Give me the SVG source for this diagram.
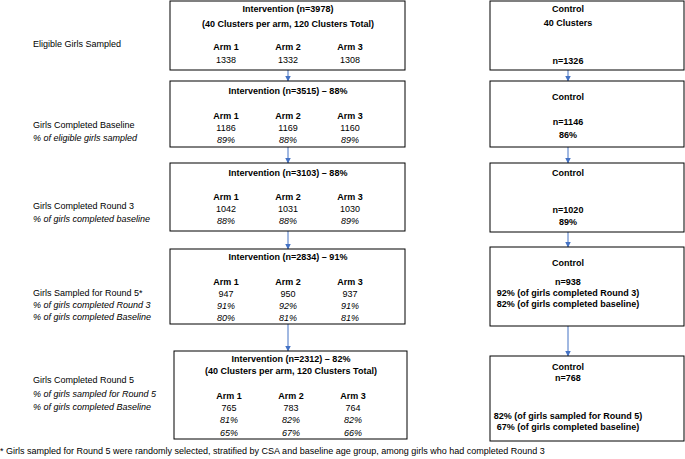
<svg xmlns="http://www.w3.org/2000/svg" width="685" height="459" viewBox="0 0 685 459">
<defs>
<marker id="ah" viewBox="0 0 6 6" refX="5.5" refY="3" markerWidth="6" markerHeight="6" markerUnits="userSpaceOnUse" orient="auto">
<path d="M0,0 L6,3 L0,6 z" fill="#4472C4"/>
</marker>
<style>
text{font-family:"Liberation Sans",Arial,sans-serif;font-size:9px;fill:#000}
.b{font-weight:bold}
.i{font-style:italic}
.m{text-anchor:middle}
.box{fill:#fff;stroke:#000;stroke-width:1}
.con{stroke:#4472C4;stroke-width:1;fill:none;marker-end:url(#ah)}
</style>
</defs>
<rect width="685" height="459" fill="#fff"/>

<g id="connectors">
<line class="con" x1="288" y1="70" x2="288" y2="81"/>
<line class="con" x1="568" y1="70" x2="568" y2="81"/>
<line class="con" x1="288" y1="147" x2="288" y2="163"/>
<line class="con" x1="568" y1="147" x2="568" y2="163"/>
<line class="con" x1="288" y1="231" x2="288" y2="249"/>
<line class="con" x1="568" y1="232" x2="568" y2="247"/>
<line class="con" x1="288" y1="324" x2="288" y2="351"/>
<line class="con" x1="568" y1="326" x2="568" y2="356"/>
</g>

<g id="labels">
<text x="33" y="47">Eligible Girls Sampled</text>
<text x="33" y="128">Girls Completed Baseline</text>
<text x="33" y="141" class="i">% of eligible girls sampled</text>
<text x="33" y="209">Girls Completed Round 3</text>
<text x="33" y="222" class="i">% of girls completed baseline</text>
<text x="33" y="296">Girls Sampled for Round 5*</text>
<text x="33" y="308" class="i">% of girls completed Round 3</text>
<text x="33" y="320" class="i">% of girls completed Baseline</text>
<text x="33" y="383">Girls Completed Round 5</text>
<text x="33" y="397" class="i">% of girls sampled for Round 5</text>
<text x="33" y="410" class="i">% of girls completed Baseline</text>
<text x="0" y="454">* Girls sampled for Round 5 were randomly selected, stratified by CSA and baseline age group, among girls who had completed Round 3</text>
</g>

<g id="int1">
<rect class="box" x="170" y="1" width="235" height="69"/>
<text class="b m" x="288" y="12">Intervention (n=3978)</text>
<text class="b m" x="288" y="27">(40 Clusters per arm, 120 Clusters Total)</text>
<text class="b m" x="226" y="50">Arm 1</text>
<text class="b m" x="288" y="50">Arm 2</text>
<text class="b m" x="350" y="50">Arm 3</text>
<text class="m" x="226" y="63">1338</text>
<text class="m" x="288" y="63">1332</text>
<text class="m" x="350" y="63">1308</text>
</g>

<g id="ctl1">
<rect class="box" x="490" y="1" width="194" height="69"/>
<text class="b m" x="568" y="12">Control</text>
<text class="b m" x="568" y="26">40 Clusters</text>
<text class="b m" x="568" y="64">n=1326</text>
</g>

<g id="int2">
<rect class="box" x="170" y="81" width="235" height="66"/>
<text class="b m" x="288" y="94">Intervention (n=3515) – 88%</text>
<text class="b m" x="226" y="119">Arm 1</text>
<text class="b m" x="288" y="119">Arm 2</text>
<text class="b m" x="350" y="119">Arm 3</text>
<text class="m" x="226" y="131">1186</text>
<text class="m" x="288" y="131">1169</text>
<text class="m" x="350" y="131">1160</text>
<text class="m i" x="226" y="143">89%</text>
<text class="m i" x="288" y="143">88%</text>
<text class="m i" x="350" y="143">89%</text>
</g>

<g id="ctl2">
<rect class="box" x="490" y="81" width="194" height="66"/>
<text class="b m" x="568" y="100">Control</text>
<text class="b m" x="568" y="125">n=1146</text>
<text class="b m" x="568" y="138">86%</text>
</g>

<g id="int3">
<rect class="box" x="170" y="163" width="235" height="68"/>
<text class="b m" x="288" y="176">Intervention (n=3103) – 88%</text>
<text class="b m" x="226" y="200">Arm 1</text>
<text class="b m" x="288" y="200">Arm 2</text>
<text class="b m" x="350" y="200">Arm 3</text>
<text class="m" x="226" y="212">1042</text>
<text class="m" x="288" y="212">1031</text>
<text class="m" x="350" y="212">1030</text>
<text class="m i" x="226" y="224">88%</text>
<text class="m i" x="288" y="224">88%</text>
<text class="m i" x="350" y="224">89%</text>
</g>

<g id="ctl3">
<rect class="box" x="490" y="163" width="194" height="69"/>
<text class="b m" x="568" y="176">Control</text>
<text class="b m" x="568" y="213">n=1020</text>
<text class="b m" x="568" y="225">89%</text>
</g>

<g id="int4">
<rect class="box" x="170" y="249" width="235" height="75"/>
<text class="b m" x="288" y="260">Intervention (n=2834) – 91%</text>
<text class="b m" x="226" y="285">Arm 1</text>
<text class="b m" x="288" y="285">Arm 2</text>
<text class="b m" x="350" y="285">Arm 3</text>
<text class="m" x="226" y="297">947</text>
<text class="m" x="288" y="297">950</text>
<text class="m" x="350" y="297">937</text>
<text class="m i" x="226" y="309">91%</text>
<text class="m i" x="288" y="309">92%</text>
<text class="m i" x="350" y="309">91%</text>
<text class="m i" x="226" y="321">80%</text>
<text class="m i" x="288" y="321">81%</text>
<text class="m i" x="350" y="321">81%</text>
</g>

<g id="ctl4">
<rect class="box" x="490" y="247" width="194" height="79"/>
<text class="b m" x="568" y="266">Control</text>
<text class="b m" x="568" y="285">n=938</text>
<text class="b m" x="568" y="296">92% (of girls completed Round 3)</text>
<text class="b m" x="568" y="307">82% (of girls completed baseline)</text>
</g>

<g id="int5">
<rect class="box" x="174" y="351" width="233" height="88"/>
<text class="b m" x="291" y="362">Intervention (n=2312) – 82%</text>
<text class="b m" x="291" y="374">(40 Clusters per arm, 120 Clusters Total)</text>
<text class="b m" x="229" y="399">Arm 1</text>
<text class="b m" x="291" y="399">Arm 2</text>
<text class="b m" x="353" y="399">Arm 3</text>
<text class="m" x="229" y="411">765</text>
<text class="m" x="291" y="411">783</text>
<text class="m" x="353" y="411">764</text>
<text class="m i" x="229" y="423">81%</text>
<text class="m i" x="291" y="423">82%</text>
<text class="m i" x="353" y="423">82%</text>
<text class="m i" x="229" y="436">65%</text>
<text class="m i" x="291" y="436">67%</text>
<text class="m i" x="353" y="436">66%</text>
</g>

<g id="ctl5">
<rect class="box" x="490" y="356" width="194" height="85"/>
<text class="b m" x="568" y="370">Control</text>
<text class="b m" x="568" y="381">n=768</text>
<text class="b m" x="568" y="419">82% (of girls sampled for Round 5)</text>
<text class="b m" x="568" y="430">67% (of girls completed baseline)</text>
</g>
</svg>
